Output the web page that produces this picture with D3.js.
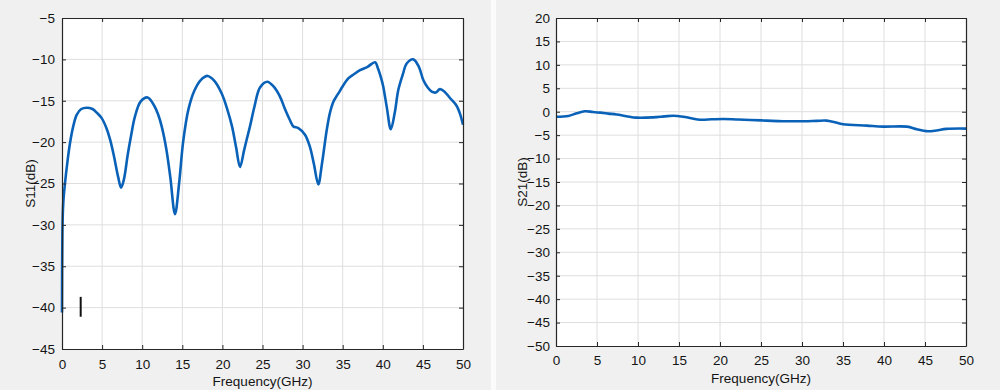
<!DOCTYPE html>
<html>
<head>
<meta charset="utf-8">
<script src="https://cdn.jsdelivr.net/npm/d3@7"></script>
<style>
  html, body { margin: 0; padding: 0; background: #f0f0f0; }
  svg { display: block; }
  .tick text { font-family: "Liberation Sans", Arial, sans-serif; font-size: 13.5px; fill: #141414; }
  .lbl { font-family: "Liberation Sans", Arial, sans-serif; font-size: 13.5px; fill: #141414; }
</style>
</head>
<body>
<svg id="chart" width="1000" height="390"></svg>
<script>
// ---- data ----
const freqS11 = [0, 0.05, 0.15, 0.37, 0.7, 1.0, 1.4, 1.83, 2.4, 3.08, 3.8, 4.4, 4.95, 5.5, 6.0, 6.5, 7.0, 7.36, 7.7, 8.2, 8.6, 9.1, 9.8, 10.68, 11.5, 12.0, 12.43, 13.0, 13.5, 14.09, 14.6, 15.1, 15.75, 16.5, 17.3, 18.16, 19.0, 19.9, 20.6, 21.2, 21.7, 22.2, 22.7, 23.0, 23.44, 24.0, 24.69, 25.6, 26.4, 27.18, 27.8, 28.4, 28.85, 29.47, 30.3, 30.92, 31.4, 31.96, 32.4, 33.0, 33.4, 33.8, 34.2, 34.6, 34.9, 35.7, 36.4, 37.16, 38.1, 39.03, 39.4, 39.86, 40.06, 40.5, 41.0, 41.5, 41.93, 42.5, 42.98, 43.8, 44.5, 45.05, 45.6, 46.1, 46.6, 47.13, 47.7, 48.4, 49.2, 49.6, 50];
const s11 = [-40.6, -31, -27.5, -25, -22.2, -20.1, -18.1, -16.7, -16.0, -15.84, -16.0, -16.5, -17.1, -18.2, -19.7, -21.8, -24.2, -25.5, -24.6, -21.5, -19.3, -16.9, -15.1, -14.6, -15.6, -16.7, -18.1, -20.8, -24.2, -28.7, -25.0, -20.0, -16.1, -13.8, -12.5, -12.0, -12.6, -14.1, -16.0, -18.1, -20.6, -23.0, -21.0, -19.8, -18.1, -15.7, -13.4, -12.7, -13.3, -14.5, -16.0, -17.3, -18.1, -18.3, -19.1, -20.6, -22.6, -25.1, -22.7, -18.6, -16.5, -15.2, -14.5, -13.9, -13.4, -12.3, -11.8, -11.3, -10.9, -10.35, -11.1, -12.5, -13.3, -15.8, -18.45, -16.4, -13.7, -11.8, -10.5, -10.0, -10.9, -12.5, -13.4, -13.9, -14.0, -13.6, -13.9, -14.7, -15.6, -16.5, -17.9];

const freqS21 = [0, 1.5, 2.5, 3.5, 4.5, 5.4, 6.4, 7.4, 8.6, 9.8, 11.85, 13.2, 14.3, 15.5, 16.5, 17.6, 19.0, 20.4, 22.0, 23.7, 25.7, 27.7, 30.2, 31.8, 33.0, 34.0, 35.0, 37.9, 39.9, 42.8, 44.0, 45.2, 46.4, 47.6, 50];
const s21 = [-1.06, -0.9, -0.35, 0.1, -0.05, -0.2, -0.4, -0.6, -0.95, -1.27, -1.2, -1.0, -0.85, -1.06, -1.4, -1.7, -1.62, -1.55, -1.65, -1.76, -1.9, -2.03, -2.03, -1.95, -1.9, -2.25, -2.67, -2.97, -3.18, -3.18, -3.73, -4.15, -4.0, -3.67, -3.6];

// short black cursor mark in the S11 panel
const markFreq = [2.33];
const markDb = [-38.7, -41.1];

const freqTicks = [0, 5, 10, 15, 20, 25, 30, 35, 40, 45, 50];
const s11Ticks = [-45, -40, -35, -30, -25, -20, -15, -10, -5];
const s21Ticks = [-50, -45, -40, -35, -30, -25, -20, -15, -10, -5, 0, 5, 10, 15, 20];

const lineColor = "#0a62b8";
const axisColor = "#262626";
const gridColor = "#dedede";

const svg = d3.select("#chart");

// white separator strip between the two panels
svg.append("rect").attr("x", 491).attr("y", 0).attr("width", 5).attr("height", 390).attr("fill", "#fbfbfb");

function drawPanel(opts) {
  const { left, right, top, bottom, yDomain, yTicks, freq, vals, yLabel, xPad, yPad, xLabelY, yLabelX } = opts;
  const x = d3.scaleLinear().domain([0, 50]).range([left, right]);
  const y = d3.scaleLinear().domain(yDomain).range([bottom, top]);
  const g = svg.append("g");

  g.append("rect")
    .attr("x", left).attr("y", top)
    .attr("width", right - left).attr("height", bottom - top)
    .attr("fill", "#fff");

  // grid
  g.append("g").selectAll("line").data(freqTicks.slice(1, -1)).join("line")
    .attr("x1", d => x(d)).attr("x2", d => x(d))
    .attr("y1", top).attr("y2", bottom)
    .attr("stroke", gridColor).attr("stroke-width", 1);
  g.append("g").selectAll("line").data(yTicks.slice(1, -1)).join("line")
    .attr("y1", d => y(d)).attr("y2", d => y(d))
    .attr("x1", left).attr("x2", right)
    .attr("stroke", gridColor).attr("stroke-width", 1);

  // data line
  const line = d3.line()
    .x((d, i) => x(freq[i]))
    .y(d => y(d))
    .curve(d3.curveCatmullRom.alpha(0.5));
  g.append("path")
    .datum(vals)
    .attr("d", line)
    .attr("fill", "none")
    .attr("stroke", lineColor)
    .attr("stroke-width", 2.6)
    .attr("stroke-linejoin", "round");

  // axes (ticks point inward, MATLAB style box)
  const styleAxis = sel => {
    sel.select(".domain").attr("stroke", axisColor).attr("stroke-width", 1.2);
    sel.selectAll(".tick line").attr("stroke", axisColor);
  };
  g.append("g").attr("transform", `translate(0,${bottom})`)
    .call(d3.axisBottom(x).tickValues(freqTicks).tickSizeInner(-4).tickSizeOuter(0).tickPadding(xPad))
    .call(styleAxis).attr("font-family", null).attr("font-size", null);
  g.append("g").attr("transform", `translate(0,${top})`)
    .call(d3.axisTop(x).tickValues(freqTicks).tickSizeInner(-4).tickSizeOuter(0).tickFormat(""))
    .call(styleAxis);
  g.append("g").attr("transform", `translate(${left},0)`)
    .call(d3.axisLeft(y).tickValues(yTicks).tickSizeInner(-4).tickSizeOuter(0).tickPadding(yPad))
    .call(styleAxis).attr("font-family", null).attr("font-size", null);
  g.append("g").attr("transform", `translate(${right},0)`)
    .call(d3.axisRight(y).tickValues(yTicks).tickSizeInner(-4).tickSizeOuter(0).tickFormat(""))
    .call(styleAxis);

  g.append("text").attr("class", "lbl")
    .attr("x", (left + right) / 2).attr("y", xLabelY)
    .attr("text-anchor", "middle")
    .text("Frequency(GHz)");
  g.append("text").attr("class", "lbl")
    .attr("transform", `translate(${yLabelX},${(top + bottom) / 2}) rotate(-90)`)
    .attr("text-anchor", "middle")
    .text(yLabel);

  return { x, y, g };
}

const p1 = drawPanel({
  left: 62, right: 463, top: 18, bottom: 349,
  yDomain: [-45, -5], yTicks: s11Ticks,
  freq: freqS11, vals: s11, yLabel: "S11(dB)",
  xPad: 10, yPad: 7, xLabelY: 386, yLabelX: 35
});

p1.g.append("line")
  .attr("x1", p1.x(markFreq[0])).attr("x2", p1.x(markFreq[0]))
  .attr("y1", p1.y(markDb[0])).attr("y2", p1.y(markDb[1]))
  .attr("stroke", "#111").attr("stroke-width", 2);

drawPanel({
  left: 556, right: 966, top: 18, bottom: 346,
  yDomain: [-50, 20], yTicks: s21Ticks,
  freq: freqS21, vals: s21, yLabel: "S21(dB)",
  xPad: 9, yPad: 6, xLabelY: 383, yLabelX: 527
});
</script>
</body>
</html>
